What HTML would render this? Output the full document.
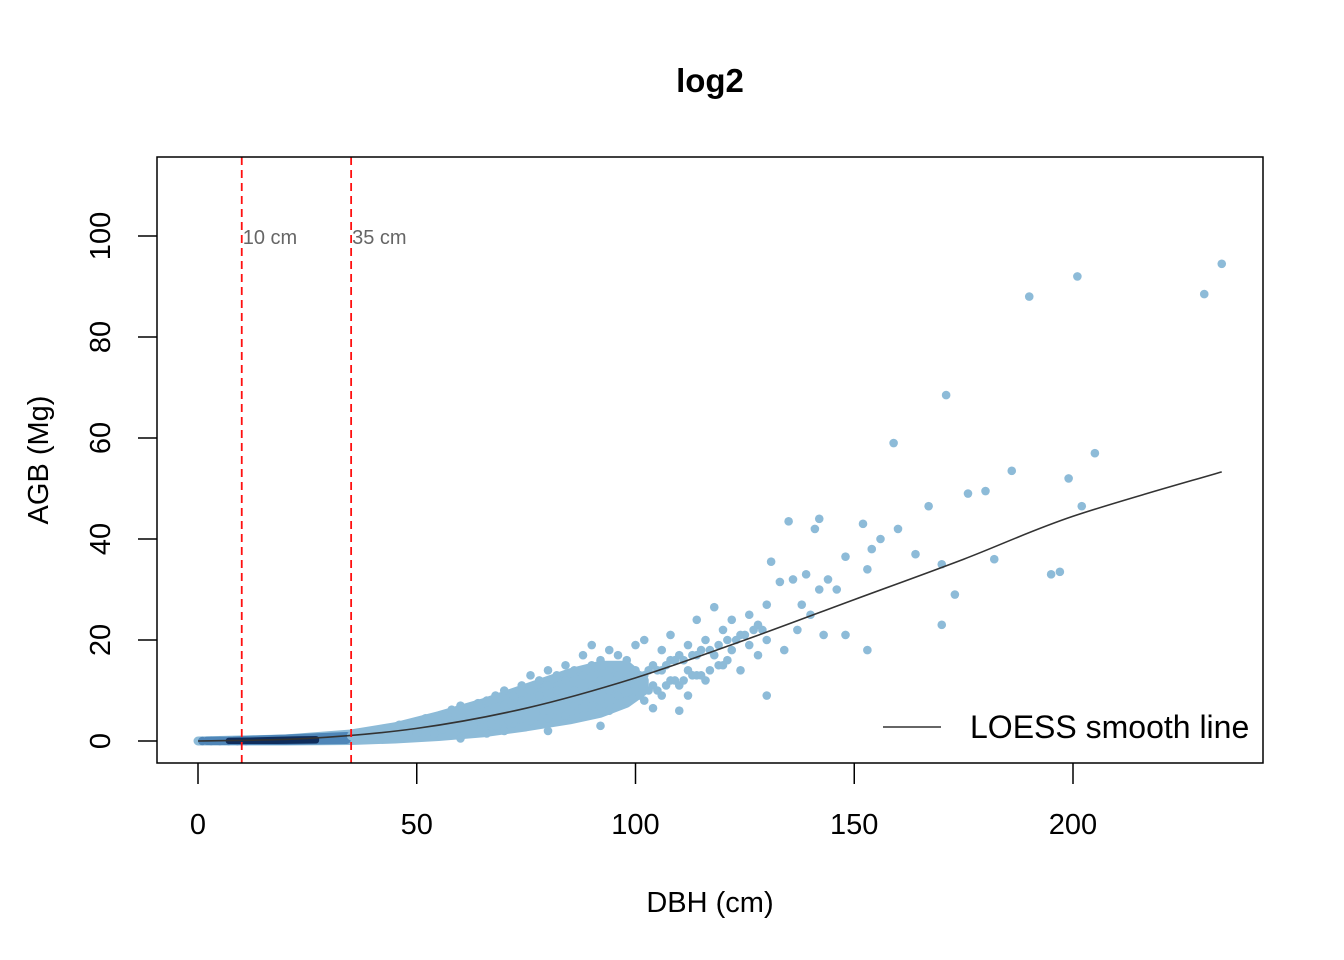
<!DOCTYPE html>
<html><head><meta charset="utf-8"><style>
body{margin:0;background:#fff;}
svg{display:block;font-family:"Liberation Sans",Arial,sans-serif;}
</style></head><body>
<svg id="chart" width="1344" height="960">
<text x="710" y="92" text-anchor="middle" font-size="33" font-weight="bold">log2</text>
<g id="plot"></g>
<rect x="157" y="157" width="1106" height="606" fill="none" stroke="#000" stroke-width="1.5"/>
<text x="710" y="912" text-anchor="middle" font-size="29">DBH (cm)</text>
<text transform="translate(48,460) rotate(-90)" text-anchor="middle" font-size="29">AGB (Mg)</text>
<g>
<line x1="883" y1="727" x2="941" y2="727" stroke="#333" stroke-width="1.5"/>
<text x="970" y="738" font-size="32">LOESS smooth line</text>
</g>
</svg>
<script>
const xTicks=[0,50,100,150,200];
const yTicks=[0,20,40,60,80,100];
const vLines=[10,35];
const vLabels=["10 cm","35 cm"];
const bandX=[0,20,35,45,55,65,75,85,92,98,102];
const bandLow=[0,0,0.1,0.4,0.9,1.6,2.8,4.2,5.5,7.5,10];
const bandHigh=[0,0.4,1.4,2.8,5,7.5,10.5,13.5,15,15,12];
const darkX=[7,12,18,23,27];
const darkLow=[0,0,0,0.05,0.1];
const darkHigh=[0.05,0.1,0.25,0.35,0.4];
const dbh=[1,3,5,7,9,11,13,15,17,19,21,23,25,27,29,31,33,35,37,39,41,43,45,47,49,36,38,40,42,44,46,48,50,50,52,52,54,54,56,56,58,58,60,60,60,62,62,64,64,64,66,66,66,68,68,68,70,70,70,72,72,72,74,74,74,76,76,76,76,78,78,78,80,80,80,80,82,82,82,84,84,84,84,86,86,86,88,88,88,88,90,90,90,90,92,92,92,94,94,94,94,96,96,96,98,98,98,100,100,100,102,102,102,104,104,106,106,106,108,108,108,110,110,112,112,112,114,114,114,116,116,118,118,120,120,122,122,124,124,126,126,128,128,130,130,130,131,133,134,135,136,137,138,139,140,141,142,142,143,144,146,148,148,152,153,153,154,156,159,160,164,167,170,170,171,173,176,180,182,186,190,195,197,199,201,202,205,230,234,104,110,92,80,60,66,70,98,99,101,103,105,107,109,111,113,115,117,119,121,123,125,127,129,89,91,93,95,97,99,101,103,105,107,109,111,113,115,117,119,121,87,83,79,75,71,67,63];
const agb=[0,0,0,0,0,0,0.1,0.1,0.2,0.2,0.3,0.3,0.4,0.5,0.6,0.7,0.8,1,1.1,1.3,1.5,1.7,2,2.3,2.6,0.5,1.8,0.8,2.4,1,3.2,1.4,3.8,1.6,2,4.5,3,1.5,5,2.3,3.5,6.2,2.5,4.5,7,3.5,5.5,2.8,7.5,5,4,8,6,3,5.5,9,4.5,7,10,3.5,6,9,5,8,11,4,7,10,13,6,9,12,4.5,8,11,14,6,10,13,5,8,12,15,7,10,14,5,9,13,17,7,11,15,19,8,12,16,6,10,14,18,9,13,17,8,12,16,10,14,19,8,13,20,11,15,9,14,18,12,16,21,11,17,14,19,9,13,17,24,12,20,17,26.5,15,22,18,24,14,21,19,25,17,23,9,20,27,35.5,31.5,18,43.5,32,22,27,33,25,42,44,30,21,32,30,21,36.5,43,18,34,38,40,59,42,37,46.5,23,35,68.5,29,49,49.5,36,53.5,88,33,33.5,52,92,46.5,57,88.5,94.5,6.5,6,3,2,0.5,1.5,2,11,12,13,14,14,15,16,16,17,18,18,19,20,20,21,22,22,9.5,10,11,12,12,13,9,10,10,11,12,12,13,13,14,15,16,8,7,6,5,4,3.5,3];
const loessX=[0,25,50,75,100,125,150,175,200,234];
const loessY=[0,0.5,2.5,6.5,12.5,20,28,36,44.5,53.3];
const sx=v=>198+v*4.375, sy=v=>741-v*5.05;
const NS="http://www.w3.org/2000/svg";
const g=document.getElementById('plot');
function mk(t,a,p){const e=document.createElementNS(NS,t);for(const k in a)e.setAttribute(k,a[k]);(p||g).appendChild(e);return e;}
function bandPath(xs,lo,hi){
 const top=xs.map((x,i)=>sx(x)+','+sy(hi[i]));
 const bot=xs.map((x,i)=>sx(x)+','+sy(lo[i])).reverse();
 return top.concat(bot).join(' ');
}
xTicks.forEach(t=>{
 const l=mk('line',{x1:sx(t),x2:sx(t),y1:763,y2:784,stroke:'#000','stroke-width':1.5});
 
 
 const tx=mk('text',{x:sx(t),y:834,'text-anchor':'middle','font-size':29});tx.textContent=t;
 
 
});
yTicks.forEach(t=>{
 const l=mk('line',{x1:138,x2:157,y1:sy(t),y2:sy(t),stroke:'#000','stroke-width':1.5});
 
 
 const tx=mk('text',{transform:`translate(110,${sy(t)}) rotate(-90)`,'text-anchor':'middle','font-size':29});tx.textContent=t;
 
 
});
const band=mk('polygon',{points:bandPath(bandX,bandLow,bandHigh),fill:'#8dbbd8',stroke:'#8dbbd8','stroke-width':9,'stroke-linejoin':'round'});


const band2=mk('polygon',{points:bandPath([2,8,20,34],[0,0,0,0.2],[0.05,0.1,0.5,1]),fill:'#4f86b8',stroke:'#4f86b8','stroke-width':8,'stroke-linejoin':'round'});


dbh.forEach((d,i)=>{
 if(agb[i]===undefined) return;
 const c=mk('circle',{cx:sx(d),cy:sy(agb[i]),r:4.3,fill:d<34?'#4f86b8':'#8dbbd8'});
 
 
});
const band3=mk('polygon',{points:bandPath(darkX,darkLow,darkHigh),fill:'#0f2d5c',stroke:'#0f2d5c','stroke-width':6,'stroke-linejoin':'round'});


let d='M'+sx(loessX[0])+','+sy(loessY[0]);
for(let i=0;i<loessX.length-1;i++){
 const p0=[sx(loessX[Math.max(i-1,0)]),sy(loessY[Math.max(i-1,0)])],p1=[sx(loessX[i]),sy(loessY[i])],p2=[sx(loessX[i+1]),sy(loessY[i+1])],p3=[sx(loessX[Math.min(i+2,loessX.length-1)]),sy(loessY[Math.min(i+2,loessX.length-1)])];
 d+=` C${p1[0]+(p2[0]-p0[0])/6},${p1[1]+(p2[1]-p0[1])/6} ${p2[0]-(p3[0]-p1[0])/6},${p2[1]-(p3[1]-p1[1])/6} ${p2[0]},${p2[1]}`;
}
const p=mk('path',{d:d,fill:'none',stroke:'#333','stroke-width':1.6});


vLines.forEach((v,i)=>{
 const l=mk('line',{x1:sx(v),x2:sx(v),y1:157,y2:763,stroke:'#ff1010','stroke-width':1.8,'stroke-dasharray':'8,5'});
 
 
 const t=mk('text',{x:sx(v)+1,y:244,'font-size':20,fill:'#666'});t.textContent=vLabels[i];
 
 
});
</script>
</body></html>
